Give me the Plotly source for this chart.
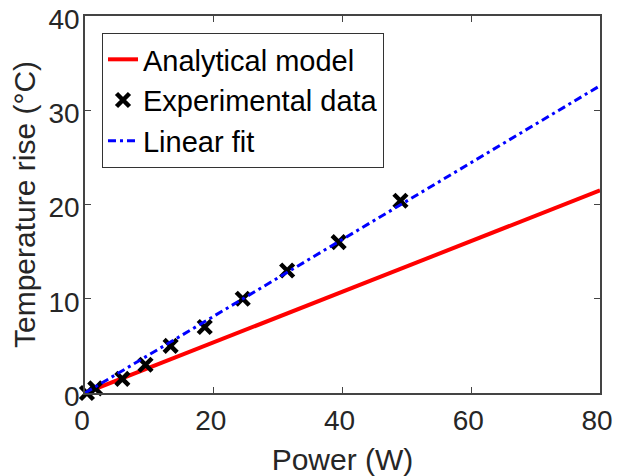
import plotly.graph_objects as go

power_exp = [0.3, 1.6, 5.8, 9.4, 13.3, 18.6, 24.5, 31.4, 39.4, 49.0]
temp_exp = [0.0, 0.5, 1.5, 3.0, 5.0, 7.0, 10.0, 13.0, 16.0, 20.4]
power_line = [0, 80]
temp_model = [0, 21.5]
temp_fit = [0, 32.6]

font = "Liberation Sans, Arial, sans-serif"
txt = "#262626"

fig = go.Figure()
fig.add_trace(go.Scatter(x=power_line, y=temp_model, mode="lines",
                         line=dict(color="#ff0000", width=4),
                         name="Analytical model"))
fig.add_trace(go.Scatter(x=power_exp, y=temp_exp, mode="markers", cliponaxis=False,
                         marker=dict(symbol="x-thin-open", size=13, color="black",
                                     line=dict(color="black", width=4.5)),
                         name="Experimental data"))
fig.add_trace(go.Scatter(x=power_line, y=temp_fit, mode="lines",
                         line=dict(color="#0000ff", width=3, dash="8px,4px,3px,4px"),
                         name="Linear fit"))

axis_common = dict(showline=True, linecolor="#444444", linewidth=1.5, mirror="ticks",
                   ticks="inside", ticklen=6, tickcolor="#444444", tickwidth=1,
                   showgrid=False, zeroline=False, automargin=False,
                   ticklabeloverflow="allow",
                   tickfont=dict(family=font, size=28, color=txt))

# page body has an 8px margin, so the figure is sized to fit the window
fig.update_layout(
    width=605, height=468,
    margin=dict(l=77, r=13, t=8, b=83),
    paper_bgcolor="white", plot_bgcolor="white",
    xaxis=dict(range=[0, 80], tickvals=[0, 20, 40, 60, 80], ticklabelstandoff=2,
               ticklabelshift=-3,
               title=dict(text="Power (W)", font=dict(family=font, size=30, color=txt), standoff=15),
               **axis_common),
    yaxis=dict(range=[0, 40], tickvals=[0, 10, 20, 30, 40], ticklabelstandoff=-2,
               ticklabelshift=3,
               title=dict(text="Temperature rise (°C)", font=dict(family=font, size=30, color=txt), standoff=12),
               **axis_common),
    legend=dict(x=0.033, y=0.955, xanchor="left", yanchor="top",
                bgcolor="white", bordercolor="#333333", borderwidth=1,
                font=dict(family=font, size=29, color="black"),
                tracegroupgap=0, itemwidth=30),
    showlegend=True,
)

fig.write_html("out.html")
